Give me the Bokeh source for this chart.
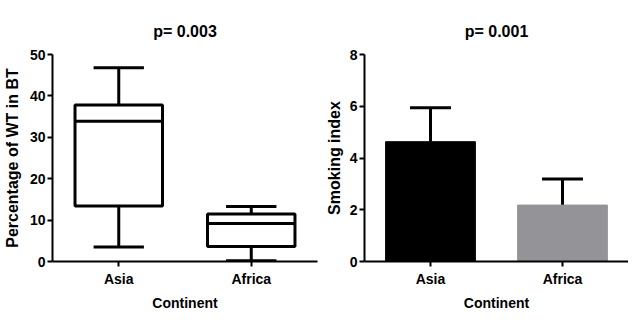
from bokeh.plotting import figure
from bokeh.layouts import row
from bokeh.models import Range1d, FixedTicker
from bokeh.embed import file_html
from bokeh.resources import INLINE

# ---- data ----
categories = ["Asia", "Africa"]
wt_min = [3.5, 0.2]
wt_q1 = [13.4, 3.6]
wt_median = [33.9, 9.2]
wt_q3 = [37.8, 11.5]
wt_max = [46.8, 13.3]

smoking_mean = [4.63, 2.18]
smoking_upper = [5.94, 3.19]
bar_colors = ["#000000", "#949498"]

left_ticks = [0, 10, 20, 30, 40, 50]
right_ticks = [0, 2, 4, 6, 8]

FONT = "Liberation Sans"
xs = list(range(len(categories)))
labels = {i: c for i, c in enumerate(categories)}


def style(p, yticks, ylabel, ylabel_standoff):
    p.grid.visible = False
    p.outline_line_color = None
    p.background_fill_color = "white"
    p.border_fill_color = "white"
    p.title.align = "center"
    p.title.vertical_align = "top"
    p.title.text_font = FONT
    p.title.text_font_size = "16px"
    p.title.text_font_style = "bold"
    p.title.text_color = "black"
    p.title.standoff = 26
    p.xaxis.ticker = FixedTicker(ticks=xs)
    p.xaxis.major_label_overrides = labels
    p.yaxis.ticker = FixedTicker(ticks=yticks)
    for ax in (p.xaxis[0], p.yaxis[0]):
        ax.axis_line_width = 2
        ax.axis_line_color = "black"
        ax.major_tick_line_width = 2
        ax.major_tick_line_color = "black"
        ax.major_tick_out = 5
        ax.major_tick_in = 0
        ax.minor_tick_line_color = None
        ax.major_label_text_font = FONT
        ax.major_label_text_font_size = "14px"
        ax.major_label_text_font_style = "bold"
        ax.major_label_text_color = "black"
        ax.axis_label_text_font = FONT
        ax.axis_label_text_font_style = "bold"
        ax.axis_label_text_color = "black"
    p.xaxis.major_label_standoff = 4
    p.yaxis.major_label_standoff = 2
    p.xaxis.axis_label = "Continent"
    p.xaxis.axis_label_text_font_size = "14px"
    p.xaxis.axis_label_standoff = 5
    p.yaxis.axis_label = ylabel
    p.yaxis.axis_label_text_font_size = "16px"
    p.yaxis.axis_label_standoff = ylabel_standoff


# ---- left: box plot ----
p1 = figure(width=318, height=313, output_backend="svg", toolbar_location=None,
            x_range=Range1d(-0.5, 1.5), y_range=Range1d(0, 50),
            title="p= 0.003", min_border_left=52, min_border_right=1,
            min_border_top=54, min_border_bottom=49)
style(p1, left_ticks, "Percentage of WT in BT", 6)
lw = 3
cap = 0.19
p1.segment(x0=xs, y0=wt_q3, x1=xs, y1=wt_max, line_color="black", line_width=lw)
p1.segment(x0=xs, y0=wt_min, x1=xs, y1=wt_q1, line_color="black", line_width=lw)
p1.segment(x0=[x - cap for x in xs], y0=wt_max, x1=[x + cap for x in xs], y1=wt_max,
           line_color="black", line_width=lw)
p1.segment(x0=[x - cap for x in xs], y0=wt_min, x1=[x + cap for x in xs], y1=wt_min,
           line_color="black", line_width=lw)
p1.vbar(x=xs, width=0.66, bottom=wt_q1, top=wt_q3, fill_color="white",
        line_color="black", line_width=lw)
p1.segment(x0=[x - 0.33 for x in xs], y0=wt_median, x1=[x + 0.33 for x in xs], y1=wt_median,
           line_color="black", line_width=lw)

# ---- right: bar chart ----
p2 = figure(width=310, height=313, output_backend="svg", toolbar_location=None,
            x_range=Range1d(-0.5, 1.5), y_range=Range1d(0, 8),
            title="p= 0.001", min_border_left=46, min_border_right=0,
            min_border_top=54, min_border_bottom=49)
style(p2, right_ticks, "Smoking index", 4)
ecap = 0.155
p2.segment(x0=xs, y0=smoking_mean, x1=xs, y1=smoking_upper, line_color="black", line_width=lw)
p2.segment(x0=[x - ecap for x in xs], y0=smoking_upper, x1=[x + ecap for x in xs], y1=smoking_upper,
           line_color="black", line_width=lw)
p2.vbar(x=xs, width=0.68, bottom=0, top=smoking_mean, fill_color=bar_colors,
        line_color=bar_colors, line_width=1)

layout = row(p1, p2)
open("out.html", "w").write(file_html(layout, INLINE))
